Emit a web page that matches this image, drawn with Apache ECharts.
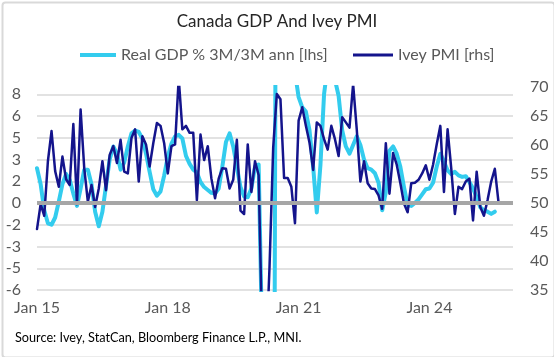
<!DOCTYPE html>
<html>
<head>
<meta charset="utf-8">
<script src="https://cdn.jsdelivr.net/npm/echarts@6/dist/echarts.min.js"></script>
<style>
html,body{margin:0;padding:0;background:#fff;}
#chart{width:554px;height:357px;}
</style>
</head>
<body>
<div id="chart"></div>
<script>
// Monthly categories Jan 2015 .. Dec 2025
var monthNames = ['Jan','Feb','Mar','Apr','May','Jun','Jul','Aug','Sep','Oct','Nov','Dec'];
var years = ['15','16','17','18','19','20','21','22','23','24','25'];
var categories = [];
years.forEach(function (y) { monthNames.forEach(function (m) { categories.push(m + ' ' + y); }); });

var xTickLabels = ['Jan 15', 'Jan 18', 'Jan 21', 'Jan 24'];

// Real GDP % 3M/3M annualised [lhs], Jan 2015 onward
var gdp = [
  2.4, 1.3, -0.5, -1.4, -1.5, -1.0, 0.1, 1.3, 2.0, 1.6, 0.65, -0.2,
  1.0, 2.3, 2.3, 1.3, -0.6, -1.6, -0.6, 1.2, 3.0, 3.9, 3.4, 2.3,
  2.8, 3.9, 4.8, 5.0, 4.9, 4.45, 3.4, 2.15, 0.95, 0.5, 0.8, 1.9,
  3.2, 4.1, 4.6, 4.7, 4.45, 3.25, 2.7, 2.3, 2.1, 1.45, 1.1, 0.9,
  0.7, 0.65, 1.0, 2.5, 4.2, 4.8, 3.9, 2.5, 1.1, 0.45, 0.4, 1.0,
  2.5, 2.65, -10, -35, -45, -40, 40, 45, 40, 20, 12, 9,
  7.3, 6.6, 6.3, 5.0, 2.5, -0.65, 2.6, 7.5, 9.5, 10, 8.5, 7.4,
  5.0, 3.9, 3.4, 4.0, 4.6, 4.0, 3.0, 2.4, 2.3, 2.05, 1.4, -0.5,
  0.75, 3.6, 3.9, 3.4, 2.5, 1.1, -0.15, -0.2, 0.0, 0.25, 0.6, 0.95,
  1.0, 1.4, 2.5, 3.4, 2.85, 2.25, 2.0, 2.15, 1.9, 1.8, 1.85, 1.45,
  1.0, 0.4, -0.3, -0.5, -0.6, -0.75, -0.6
];

// Ivey PMI [rhs], Jan 2015 onward
var ivey = [
  45.5, 49.8, 47.8, 57.2, 62.4, 55.5, 52.8, 58.0, 54.1, 53.1, 63.6, 49.8,
  66.1, 56.0, 50.2, 53.1, 49.3, 52.5, 57.2, 52.2, 58.3, 59.8, 56.9, 60.9,
  55.4, 55.1, 61.2, 62.7, 53.7, 61.5, 60.1, 56.3, 60.3, 63.8, 63.3, 60.3,
  55.1, 59.8, 60.1, 71.5, 62.7, 63.3, 62.1, 62.1, 50.5, 61.8, 57.4, 59.8,
  54.2, 50.8, 54.2, 56.0, 55.9, 52.5, 54.0, 60.9, 48.7, 48.1, 60.1, 51.9,
  57.2, 54.8, 26.0, 22.8, 39.1, 59.5, 68.8, 67.9, 54.3, 54.3, 52.8, 46.5,
  64.2, 66.5, 63.3, 60.4, 55.7, 63.9, 63.3, 61.0, 59.2, 63.3, 61.0, 58.1,
  64.8, 63.9, 63.0, 70.5, 62.7, 53.7, 57.2, 53.4, 52.5, 52.4, 51.3, 49.0,
  60.3, 51.6, 58.6, 56.6, 53.4, 49.9, 48.4, 53.4, 53.5, 54.0, 55.1, 56.5,
  54.0, 56.6, 60.1, 63.3, 51.9, 62.7, 56.0, 48.1, 52.8, 52.4, 53.7, 54.2,
  47.0, 55.4, 49.3, 47.8, 50.5, 53.7, 55.9, 50.2
];

var seriesNames = ['Real GDP % 3M/3M ann [lhs]', 'Ivey PMI [rhs]'];

var chart = echarts.init(document.getElementById('chart'), null, {renderer: 'canvas'});
var FONT = 'Lato';
var LABEL_COLOR = '#595959';

function excelRound(v) {
  var s = v < 0 ? -1 : 1;
  return s * Math.round(Math.abs(v) + 1e-9);
}

chart.setOption({
  backgroundColor: '#ffffff',
  animation: false,
  title: {
    text: 'Canada GDP And Ivey PMI',
    left: 'center',
    top: 8,
    textStyle: {fontFamily: FONT, fontSize: 17, fontWeight: 'normal', color: '#262626'}
  },
  legend: [
    {
      data: [seriesNames[0]], left: 80, top: 47, padding: 0, itemWidth: 36, itemHeight: 4, icon: 'rect',
      textStyle: {fontFamily: FONT, fontSize: 16, color: LABEL_COLOR}
    },
    {
      data: [seriesNames[1]], left: 353, top: 47, padding: 0, itemWidth: 40, itemHeight: 3, icon: 'rect',
      textStyle: {fontFamily: FONT, fontSize: 16, color: LABEL_COLOR}
    }
  ],
  graphic: [
    {
      type: 'rect', left: 0, top: 0, silent: true, z: 100,
      shape: {x: 1, y: 1, width: 552, height: 355, r: 3},
      style: {fill: 'none', stroke: '#d9d9d9', lineWidth: 2}
    },
    {
      type: 'text', left: 15, top: 331, silent: true,
      style: {text: 'Source: Ivey, StatCan, Bloomberg Finance L.P., MNI.', fill: '#000000',
        font: '12.7px "Liberation Sans Narrow", "Lato", sans-serif'}
    }
  ],
  grid: {left: 37, right: 41, top: 87, bottom: 67},
  xAxis: {
    type: 'category',
    data: categories,
    boundaryGap: false,
    axisLine: {show: false},
    axisTick: {show: false},
    splitLine: {show: false},
    axisLabel: {
      interval: 0,
      margin: 10,
      fontFamily: FONT, fontSize: 16, color: LABEL_COLOR,
      formatter: function (v) { return xTickLabels.indexOf(v) >= 0 ? v : ''; }
    }
  },
  yAxis: [
    {
      type: 'value', min: -6, max: 8, interval: 1.5, position: 'left',
      axisLine: {show: false}, axisTick: {show: false},
      splitLine: {show: true, showMaxLine: false, lineStyle: {color: '#d9d9d9', width: 1.5}},
      axisLabel: {
        margin: 16, fontFamily: FONT, fontSize: 16, color: LABEL_COLOR,
        formatter: function (v) { return v > 7.9 ? '' : String(excelRound(v)); }
      }
    },
    {
      type: 'value', min: 35, max: 70, interval: 5, position: 'right',
      axisLine: {show: false}, axisTick: {show: false},
      splitLine: {show: false},
      axisLabel: {margin: 17, fontFamily: FONT, fontSize: 16, color: LABEL_COLOR}
    }
  ],
  series: [
    {
      name: '_zero', type: 'line', data: [], yAxisIndex: 0, z: 1, silent: true,
      markLine: {
        silent: true, symbol: ['none', 'none'], label: {show: false},
        lineStyle: {color: '#a6a6a6', width: 4, type: 'solid'},
        emphasis: {disabled: true},
        data: [{yAxis: 0}]
      }
    },
    {
      name: seriesNames[0], type: 'line', data: gdp, yAxisIndex: 0, z: 3,
      symbol: 'none', clip: true, connectNulls: false,
      lineStyle: {color: '#33ccee', width: 4, join: 'round', cap: 'round'},
      itemStyle: {color: '#33ccee'}
    },
    {
      name: seriesNames[1], type: 'line', data: ivey, yAxisIndex: 1, z: 4,
      symbol: 'none', clip: true,
      lineStyle: {color: '#14148c', width: 2.5, join: 'round', cap: 'round'},
      itemStyle: {color: '#14148c'}
    }
  ]
});
</script>
</body>
</html>
